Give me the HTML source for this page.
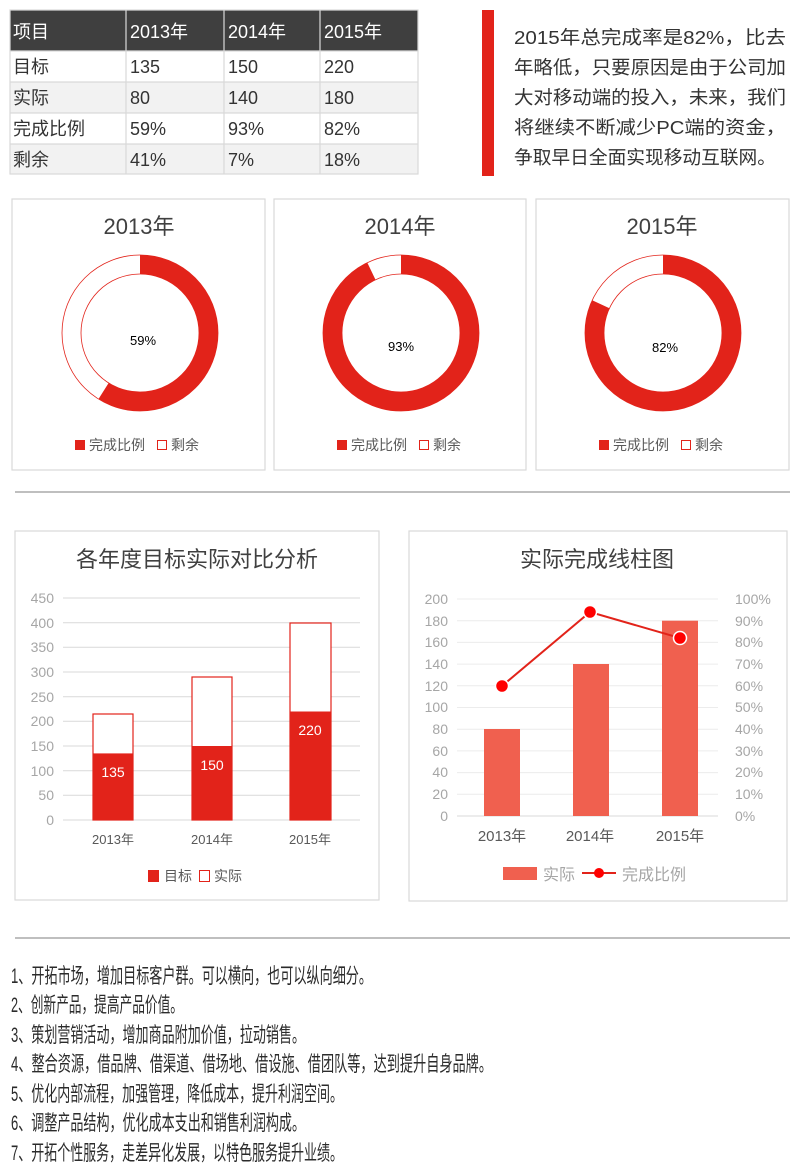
<!DOCTYPE html>
<html><head><meta charset="utf-8"><style>
html,body{margin:0;padding:0;background:#fff}
svg{display:block}
text{font-family:"Liberation Sans","Noto Sans CJK SC",sans-serif}
</style></head><body>
<svg width="800" height="1170" viewBox="0 0 800 1170" xmlns="http://www.w3.org/2000/svg">
<!-- table -->
<rect x="10" y="10" width="408" height="41" fill="#3f3f3f"/>
<rect x="10" y="82" width="408" height="31" fill="#f2f2f2"/>
<rect x="10" y="144" width="408" height="30" fill="#f2f2f2"/>
<g stroke="#d9d9d9" stroke-width="1.2" fill="none">
<rect x="10" y="10" width="408" height="164"/>
<line x1="10" y1="51" x2="418" y2="51"/><line x1="10" y1="82" x2="418" y2="82"/>
<line x1="10" y1="113" x2="418" y2="113"/><line x1="10" y1="144" x2="418" y2="144"/>
<line x1="126" y1="10" x2="126" y2="174"/><line x1="224" y1="10" x2="224" y2="174"/><line x1="320" y1="10" x2="320" y2="174"/>
</g>
<g font-size="18" fill="#fff">
<text x="13" y="38">项目</text><text x="130" y="38">2013年</text><text x="228" y="38">2014年</text><text x="324" y="38">2015年</text>
</g>
<g font-size="18" fill="#333">
<text x="13" y="73">目标</text><text x="130" y="73">135</text><text x="228" y="73">150</text><text x="324" y="73">220</text>
<text x="13" y="104">实际</text><text x="130" y="104">80</text><text x="228" y="104">140</text><text x="324" y="104">180</text>
<text x="13" y="135">完成比例</text><text x="130" y="135">59%</text><text x="228" y="135">93%</text><text x="324" y="135">82%</text>
<text x="13" y="166">剩余</text><text x="130" y="166">41%</text><text x="228" y="166">7%</text><text x="324" y="166">18%</text>
</g>
<rect x="482" y="10" width="12" height="166" fill="#e2231a"/>
<g font-size="18.5" fill="#333">
<text x="514" y="44" textLength="272" lengthAdjust="spacingAndGlyphs">2015年总完成率是82%，比去</text>
<text x="514" y="74" textLength="272" lengthAdjust="spacingAndGlyphs">年略低，只要原因是由于公司加</text>
<text x="514" y="104" textLength="272" lengthAdjust="spacingAndGlyphs">大对移动端的投入，未来，我们</text>
<text x="514" y="134" textLength="272" lengthAdjust="spacingAndGlyphs">将继续不断减少PC端的资金，</text>
<text x="514" y="164" textLength="262" lengthAdjust="spacingAndGlyphs">争取早日全面实现移动互联网。</text>
</g>
<!-- donuts -->
<g stroke="#d9d9d9" stroke-width="1.2" fill="#fff">
<rect x="12" y="199" width="253" height="271"/><rect x="274" y="199" width="252" height="271"/><rect x="536" y="199" width="253" height="271"/>
</g>
<g font-size="22" fill="#404040" text-anchor="middle">
<text x="139" y="234">2013年</text><text x="400" y="234">2014年</text><text x="662" y="234">2015年</text>
</g>
<g fill="none" stroke="#e2231a" stroke-width="0.8">
<circle cx="140" cy="333" r="78"/><circle cx="140" cy="333" r="59"/>
<circle cx="401" cy="333" r="78"/><circle cx="401" cy="333" r="59"/>
<circle cx="663" cy="333" r="78"/><circle cx="663" cy="333" r="59"/>
</g>
<g fill="none" stroke="#e2231a" stroke-width="19">
<circle cx="140" cy="333" r="68.5" pathLength="100" stroke-dasharray="59 100" transform="rotate(-90 140 333)"/>
<circle cx="401" cy="333" r="68.5" pathLength="100" stroke-dasharray="93 100" transform="rotate(-90 401 333)"/>
<circle cx="663" cy="333" r="68.5" pathLength="100" stroke-dasharray="82 100" transform="rotate(-90 663 333)"/>
</g>
<g font-size="13" fill="#000" text-anchor="middle">
<text x="143" y="345">59%</text><text x="401" y="351">93%</text><text x="665" y="352">82%</text>
</g>
<g font-size="14" fill="#595959">
<rect x="75" y="440" width="10" height="10" fill="#e2231a"/><text x="89" y="450">完成比例</text>
<rect x="157.5" y="440.5" width="9" height="9" fill="#fff" stroke="#e2231a"/><text x="171" y="450">剩余</text>
<rect x="337" y="440" width="10" height="10" fill="#e2231a"/><text x="351" y="450">完成比例</text>
<rect x="419.5" y="440.5" width="9" height="9" fill="#fff" stroke="#e2231a"/><text x="433" y="450">剩余</text>
<rect x="599" y="440" width="10" height="10" fill="#e2231a"/><text x="613" y="450">完成比例</text>
<rect x="681.5" y="440.5" width="9" height="9" fill="#fff" stroke="#e2231a"/><text x="695" y="450">剩余</text>
</g>
<line x1="15" y1="492" x2="790" y2="492" stroke="#bfbfbf" stroke-width="2"/>
<!-- chart 1 -->
<rect x="15" y="531" width="364" height="369" fill="#fff" stroke="#d9d9d9" stroke-width="1.2"/>
<text x="197" y="567" font-size="22" fill="#404040" text-anchor="middle">各年度目标实际对比分析</text>
<g stroke="#d9d9d9" stroke-width="1">
<line x1="63" x2="360" y1="598" y2="598"/><line x1="63" x2="360" y1="622.7" y2="622.7"/><line x1="63" x2="360" y1="647.3" y2="647.3"/>
<line x1="63" x2="360" y1="672" y2="672"/><line x1="63" x2="360" y1="696.7" y2="696.7"/><line x1="63" x2="360" y1="721.3" y2="721.3"/>
<line x1="63" x2="360" y1="746" y2="746"/><line x1="63" x2="360" y1="770.7" y2="770.7"/><line x1="63" x2="360" y1="795.3" y2="795.3"/>
<line x1="63" x2="360" y1="820" y2="820"/>
</g>
<g font-size="14" fill="#a6a6a6" text-anchor="end">
<text x="54" y="603">450</text><text x="54" y="628">400</text><text x="54" y="652">350</text><text x="54" y="677">300</text><text x="54" y="702">250</text>
<text x="54" y="726">200</text><text x="54" y="751">150</text><text x="54" y="776">100</text><text x="54" y="800">50</text><text x="54" y="825">0</text>
</g>
<g fill="#fff" stroke="#e2231a" stroke-width="1.2">
<rect x="93" y="714" width="40" height="106"/><rect x="192" y="677" width="40" height="143"/><rect x="290" y="623" width="41" height="197"/>
</g>
<g fill="#e2231a">
<rect x="93" y="753.4" width="40" height="66.6"/><rect x="192" y="746" width="40" height="74"/><rect x="290" y="711.5" width="41" height="108.5"/>
</g>
<g font-size="14" fill="#fff" text-anchor="middle">
<text x="113" y="777">135</text><text x="212" y="770">150</text><text x="310" y="735">220</text>
</g>
<g font-size="13" fill="#595959" text-anchor="middle">
<text x="113" y="844">2013年</text><text x="212" y="844">2014年</text><text x="310" y="844">2015年</text>
</g>
<g font-size="14" fill="#595959">
<rect x="148" y="870" width="11" height="12" fill="#e2231a"/><text x="164" y="881">目标</text>
<rect x="199.5" y="870.5" width="10" height="11" fill="#fff" stroke="#e2231a"/><text x="214" y="881">实际</text>
</g>
<!-- chart 2 -->
<rect x="409" y="531" width="378" height="370" fill="#fff" stroke="#d9d9d9" stroke-width="1.2"/>
<text x="597" y="567" font-size="22" fill="#404040" text-anchor="middle">实际完成线柱图</text>
<g stroke="#ececec" stroke-width="1">
<line x1="457" x2="718" y1="599" y2="599"/><line x1="457" x2="718" y1="620.7" y2="620.7"/><line x1="457" x2="718" y1="642.4" y2="642.4"/>
<line x1="457" x2="718" y1="664.1" y2="664.1"/><line x1="457" x2="718" y1="685.8" y2="685.8"/><line x1="457" x2="718" y1="707.5" y2="707.5"/>
<line x1="457" x2="718" y1="729.2" y2="729.2"/><line x1="457" x2="718" y1="750.9" y2="750.9"/><line x1="457" x2="718" y1="772.6" y2="772.6"/>
<line x1="457" x2="718" y1="794.3" y2="794.3"/><line x1="457" x2="718" y1="816" y2="816" stroke="#d9d9d9"/>
</g>
<g font-size="14" fill="#a6a6a6" text-anchor="end">
<text x="448" y="604">200</text><text x="448" y="626">180</text><text x="448" y="647">160</text><text x="448" y="669">140</text><text x="448" y="691">120</text>
<text x="448" y="712">100</text><text x="448" y="734">80</text><text x="448" y="756">60</text><text x="448" y="777">40</text><text x="448" y="799">20</text><text x="448" y="821">0</text>
</g>
<g font-size="14" fill="#a6a6a6">
<text x="735" y="604">100%</text><text x="735" y="626">90%</text><text x="735" y="647">80%</text><text x="735" y="669">70%</text><text x="735" y="691">60%</text>
<text x="735" y="712">50%</text><text x="735" y="734">40%</text><text x="735" y="756">30%</text><text x="735" y="777">20%</text><text x="735" y="799">10%</text><text x="735" y="821">0%</text>
</g>
<g fill="#f0604f">
<rect x="484" y="729" width="36" height="87"/><rect x="573" y="664" width="36" height="152"/><rect x="662" y="620.7" width="36" height="195.3"/>
</g>
<polyline points="502,686 590,612 680,638" fill="none" stroke="#e2231a" stroke-width="2"/>
<g fill="#ff0000" stroke="#fff" stroke-width="1.5">
<circle cx="502" cy="686" r="6.5"/><circle cx="590" cy="612" r="6.5"/><circle cx="680" cy="638" r="6.5"/>
</g>
<g font-size="15" fill="#595959" text-anchor="middle">
<text x="502" y="841">2013年</text><text x="590" y="841">2014年</text><text x="680" y="841">2015年</text>
</g>
<g font-size="16" fill="#a6a6a6">
<rect x="503" y="867" width="34" height="13" fill="#f0604f"/><text x="543" y="880">实际</text>
<line x1="582" y1="873" x2="616" y2="873" stroke="#e2231a" stroke-width="2"/><circle cx="599" cy="873" r="5" fill="#ff0000"/>
<text x="622" y="880">完成比例</text>
</g>
<line x1="15" y1="938" x2="790" y2="938" stroke="#bfbfbf" stroke-width="2"/>
<g font-size="21" fill="#2b2b2b">
<text x="11" y="983" textLength="361" lengthAdjust="spacingAndGlyphs">1、开拓市场，增加目标客户群。可以横向，也可以纵向细分。</text>
<text x="11" y="1012" textLength="172" lengthAdjust="spacingAndGlyphs">2、创新产品，提高产品价值。</text>
<text x="11" y="1042" textLength="294" lengthAdjust="spacingAndGlyphs">3、策划营销活动，增加商品附加价值，拉动销售。</text>
<text x="11" y="1071" textLength="481" lengthAdjust="spacingAndGlyphs">4、整合资源，借品牌、借渠道、借场地、借设施、借团队等，达到提升自身品牌。</text>
<text x="11" y="1101" textLength="332" lengthAdjust="spacingAndGlyphs">5、优化内部流程，加强管理，降低成本，提升利润空间。</text>
<text x="11" y="1130" textLength="294" lengthAdjust="spacingAndGlyphs">6、调整产品结构，优化成本支出和销售利润构成。</text>
<text x="11" y="1160" textLength="332" lengthAdjust="spacingAndGlyphs">7、开拓个性服务，走差异化发展，以特色服务提升业绩。</text>
</g>
</svg>
</body></html>
